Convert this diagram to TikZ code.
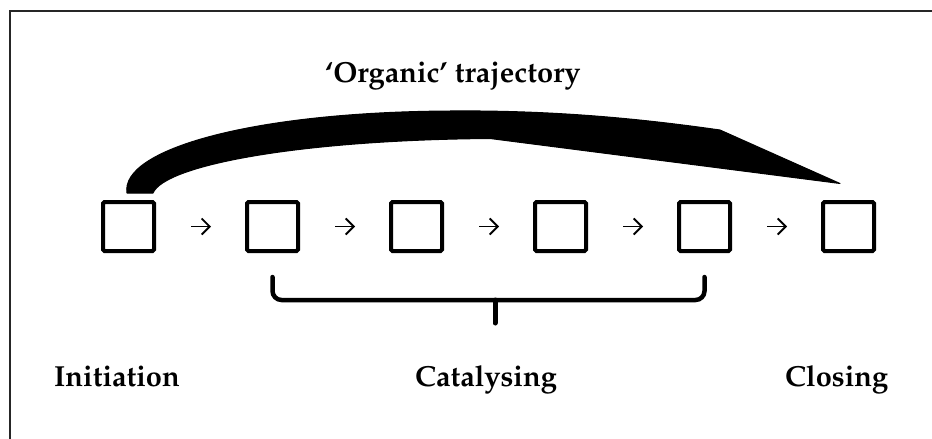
\documentclass[tikz,border=0pt]{standalone}
\usepackage[T1]{fontenc}
\usepackage{mathpazo}
\usetikzlibrary{arrows.meta}
\begin{document}
\begin{tikzpicture}[x=1pt,y=-1pt,
  stage/.style={draw, line width=4pt, rounded corners=1.5pt, minimum width=51pt, minimum height=49pt, inner sep=0pt},
  flow/.style={line width=1.8pt, -{Straight Barb[length=8pt,width=16pt,line width=1.8pt]}, shorten <=35pt, shorten >=34pt},
  phase/.style={inner sep=0pt, anchor=base west, font=\bfseries\fontsize{29}{32}\selectfont},
  bracestyle/.style={line width=4.5pt, rounded corners=9pt, line cap=round}]
\useasboundingbox (0,0) rectangle (932,439);
% frame (top and left edges only)
\draw[line width=2pt, black!85] (10,439) -- (10,11) -- (932,11);
% stages
\foreach \i in {1,...,6}
  \node[stage] (b\i) at ({128.5+144*(\i-1)},226.5) {};
\foreach \i/\j in {1/2,2/3,3/4,4/5,5/6}
  \draw[flow] (b\i) -- (b\j);
% organic trajectory band
\filldraw[line width=1pt, line join=round]
  (127,193) .. controls (120,150) and (250,112) .. (450,111)
  .. controls (560,110) and (650,120) .. (720,130)
  -- (840,183.5) -- (490,138.5)
  .. controls (300,140) and (165,165) .. (153,193) -- cycle;
% brace under stages 2-5
\draw[bracestyle] (b2.center |- 0,277) |- (b5.center |- 0,300) -- (b5.center |- 0,277);
\coordinate (bt) at (495,300);
\coordinate (bb) at (495,323);
\draw[line width=5pt, line cap=round] (bt) -- (bb);
% labels
\node[phase] (traj) at (325,82) {`Organic' trajectory};
\node[phase] (init) at (54,386.5) {Initiation};
\node[phase] (cat) at (415,386.5) {Catalysing};
\node[phase] (clos) at (785,386.5) {Closing};
\end{tikzpicture}
\end{document}
